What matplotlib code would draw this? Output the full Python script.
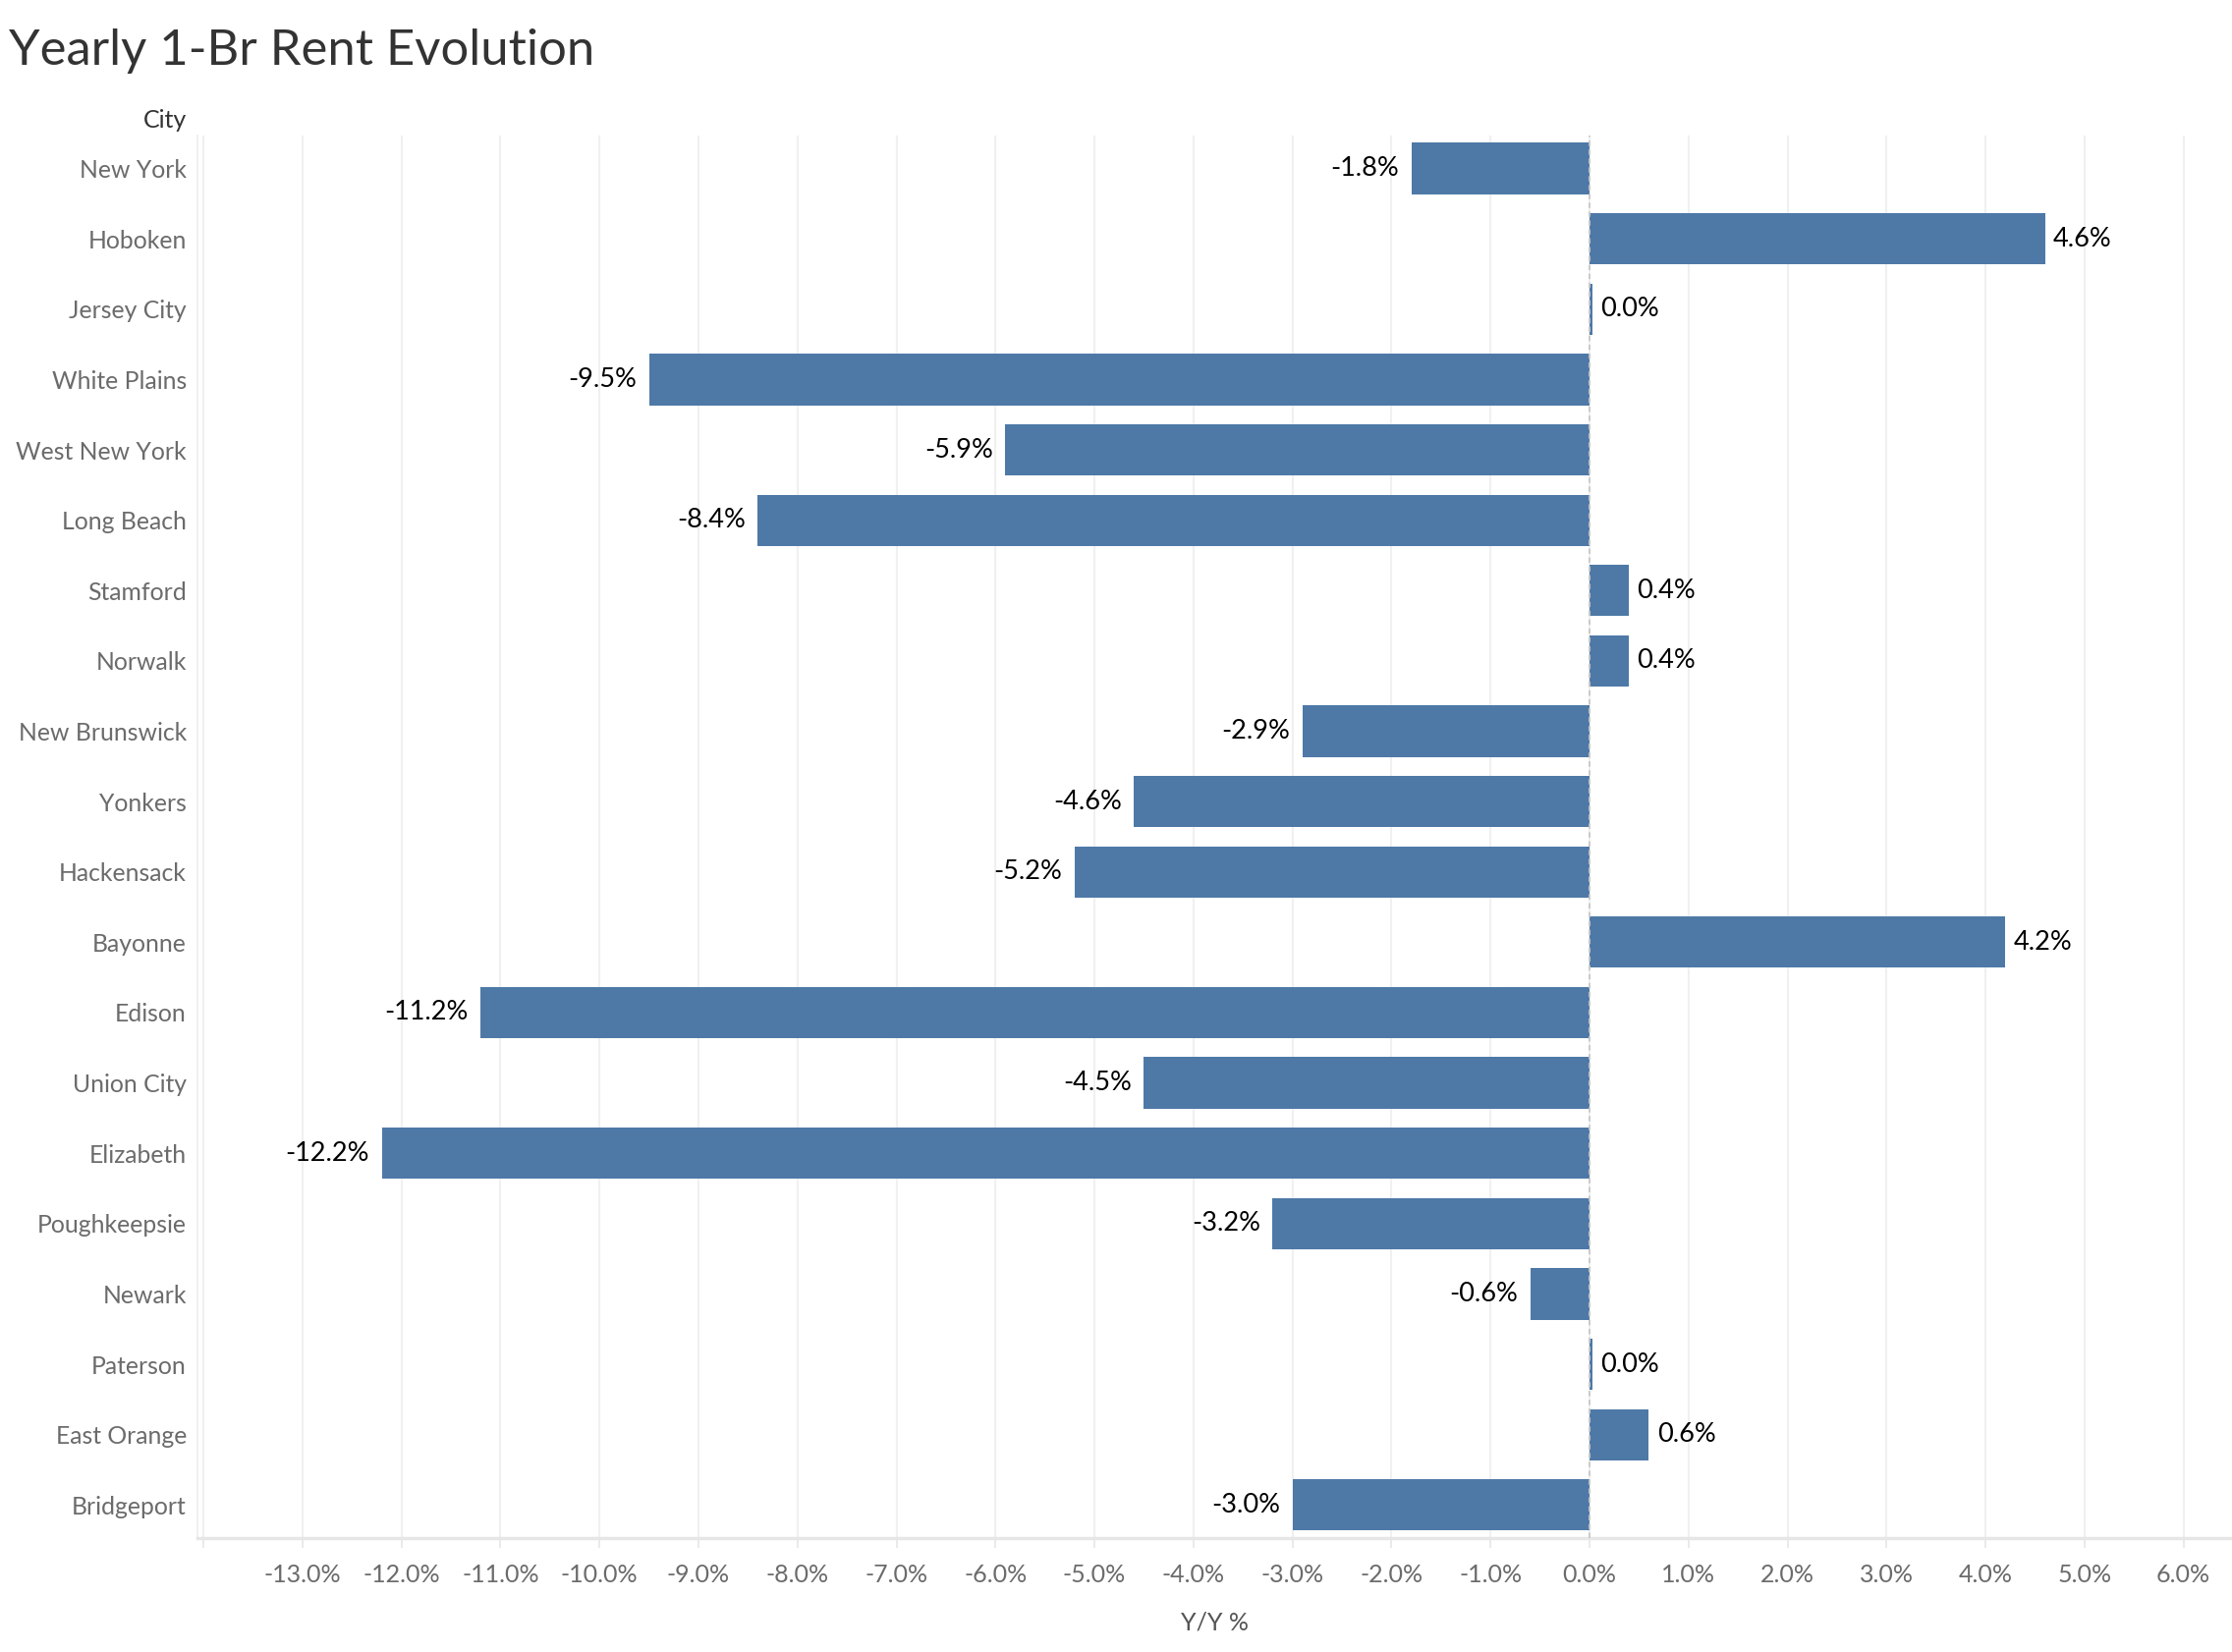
import numpy as np
import matplotlib
matplotlib.use("Agg")
import matplotlib.pyplot as plt

plt.rcParams['font.family'] = ['Lato', 'DejaVu Sans']

# данные
cities = ['New York', 'Hoboken', 'Jersey City', 'White Plains', 'West New York',
          'Long Beach', 'Stamford', 'Norwalk', 'New Brunswick', 'Yonkers',
          'Hackensack', 'Bayonne', 'Edison', 'Union City', 'Elizabeth',
          'Poughkeepsie', 'Newark', 'Paterson', 'East Orange', 'Bridgeport']
yoy = [-1.8, 4.6, 0.03, -9.5, -5.9, -8.4, 0.4, 0.4, -2.9, -4.6,
       -5.2, 4.2, -11.2, -4.5, -12.2, -3.2, -0.6, 0.03, 0.6, -3.0]
x_ticks = list(range(-14, 7))

fig = plt.figure(figsize=(22.72, 16.82), dpi=100)
ax = fig.add_axes([0.0885, 0.069, 1.0 - 0.0885, 0.849])

y = np.arange(len(cities))
ax.barh(y, yoy, height=0.73, color='#4e79a7', zorder=3)

# подписи значений
for yi, v in zip(y, yoy):
    if v < 0:
        ax.annotate(f'{v:.1f}%', (v, yi), xytext=(-9, 0), textcoords='offset points',
                    ha='right', va='center', fontsize=19.5, color='#000000')
    else:
        ax.annotate(f'{v:.1f}%', (v, yi), xytext=(6, 0), textcoords='offset points',
                    ha='left', va='center', fontsize=19.5, color='#000000')

ax.set_xlim(-14.06, 6.49)
ax.set_ylim(len(cities) - 0.53, -0.47)

ax.set_yticks(y)
ax.set_yticklabels(cities, fontsize=17.8, color='#6b6b6b')
ax.tick_params(axis='y', length=0, pad=8)

ax.set_xticks(x_ticks)
ax.set_xticklabels(['' if t == -14 else f'{t:.1f}%' for t in x_ticks],
                   fontsize=18, color='#6b6b6b')
ax.tick_params(axis='x', length=7, width=1.2, color='#e6e6e6', pad=12)

ax.grid(axis='x', color='#f0f0f0', linewidth=1.5, zorder=0)
ax.axvline(0, color='#c8c8c8', linestyle=(0, (3, 2)), linewidth=1.3, zorder=4)

for s in ['top', 'right']:
    ax.spines[s].set_visible(False)
ax.spines['left'].set_color('#ececec')
ax.spines['left'].set_linewidth(1.2)
ax.spines['bottom'].set_color('#e6e6e6')
ax.spines['bottom'].set_linewidth(2.5)

ax.set_xlabel('Y/Y %', fontsize=18, color='#555555', labelpad=18)

fig.text(0.0835, 1 - 122 / 1682, 'City', ha='right', va='center', fontsize=18, color='#333333')
fig.text(0.004, 1 - 52 / 1682, 'Yearly 1-Br Rent Evolution', ha='left', va='center',
         fontsize=36.5, color='#333333')

fig.savefig('out.png', dpi=100)
